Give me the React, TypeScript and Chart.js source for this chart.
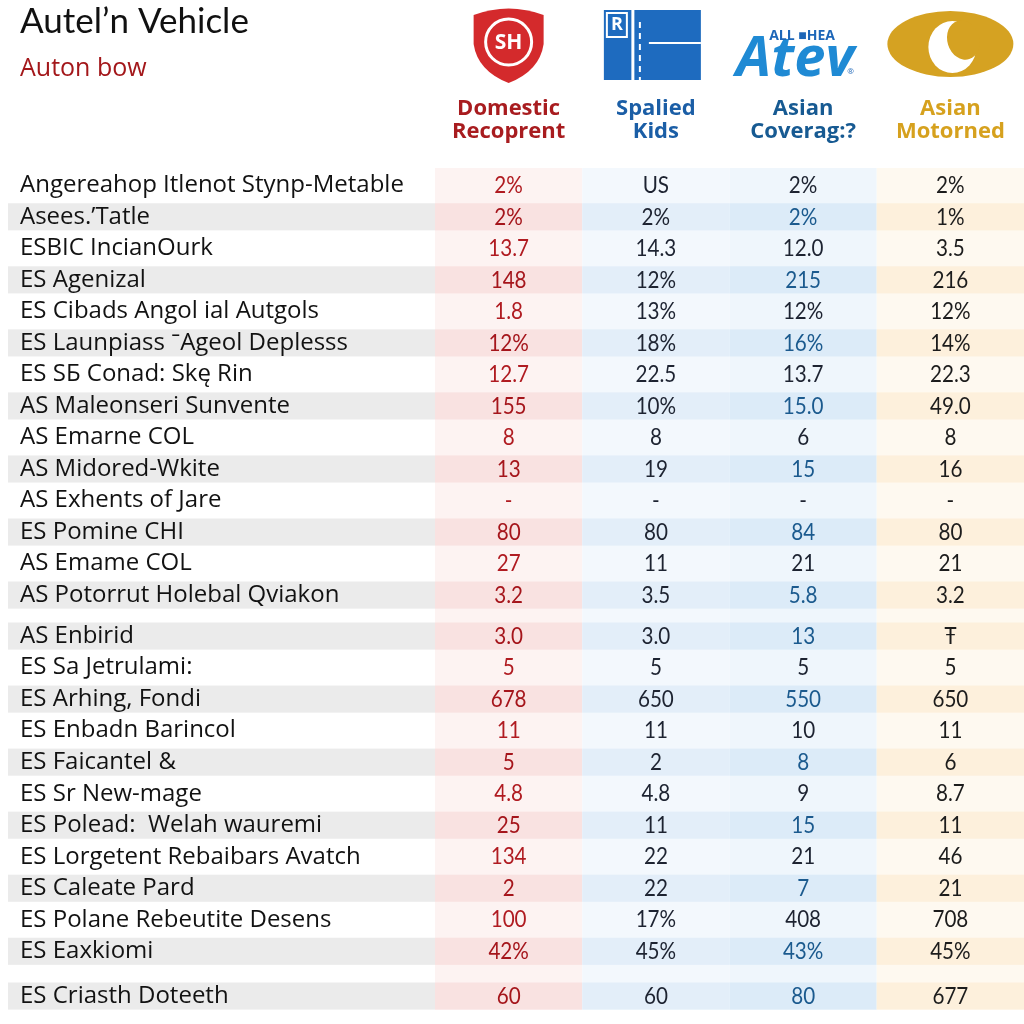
import React, { useEffect, useRef } from "react";
import { Chart, registerables } from "chart.js";

Chart.register(...registerables);

const titleText = "Autel’n Vehicle";
const subtitleText = "Auton bow";

const columnHeaders = [
  ["Domestic", "Recoprent"],
  ["Spalied", "Kids"],
  ["Asian", "Coverag:?"],
  ["Asian", "Motorned"],
];

const rowLabels = [
  "Angereahop Itlenot Stynp-Metable",
  "Asees.’Tatle",
  "ESBIC IncianOurk",
  "ES Agenizal",
  "ES Cibads Angol ial Autgols",
  "ES Launpiass ˉAgeol Deplesss",
  "ES SБ Conad: Skę Rin",
  "AS Maleonseri Sunvente",
  "AS Emarne COL",
  "AS Midored-Wkite",
  "AS Exhents of Jare",
  "ES Pomine CHI",
  "AS Emame COL",
  "AS Potorrut Holebal Qviakon",
  "AS Enbirid",
  "ES Sa Jetrulami:",
  "ES Arhing, Fondi",
  "ES Enbadn Barincol",
  "ES Faicantel &",
  "ES Sr New-mage",
  "ES Polead:  Welah wauremi",
  "ES Lorgetent Rebaibars Avatch",
  "ES Caleate Pard",
  "ES Polane Rebeutite Desens",
  "ES Eaxkiomi",
  "ES Criasth Doteeth",
];

// row slot on the vertical axis (groups separated by small gaps)
const rowSlots = [
  0, 1, 2, 3, 4, 5, 6, 7, 8, 9, 10, 11, 12, 13,
  14.3, 15.3, 16.3, 17.3, 18.3, 19.3, 20.3, 21.3, 22.3, 23.3, 24.3,
  25.72,
];

const domesticValues = ["2%", "2%", "13.7", "148", "1.8", "12%", "12.7", "155", "8", "13", "-", "80", "27", "3.2", "3.0", "5", "678", "11", "5", "4.8", "25", "134", "2", "100", "42%", "60"];
const spaliedValues = ["US", "2%", "14.3", "12%", "13%", "18%", "22.5", "10%", "8", "19", "-", "80", "11", "3.5", "3.0", "5", "650", "11", "2", "4.8", "11", "22", "22", "17%", "45%", "60"];
const coverageValues = ["2%", "2%", "12.0", "215", "12%", "16%", "13.7", "15.0", "6", "15", "-", "84", "21", "5.8", "13", "5", "550", "10", "8", "9", "15", "21", "7", "408", "43%", "80"];
const motornedValues = ["2%", "1%", "3.5", "216", "12%", "14%", "22.3", "49.0", "8", "16", "-", "80", "21", "3.2", "Ŧ", "5", "650", "11", "6", "8.7", "11", "46", "21", "708", "45%", "677"];

const columnValues = [domesticValues, spaliedValues, coverageValues, motornedValues];

// styles
const stripedRows = [1, 3, 5, 7, 9, 11, 13, 14, 16, 18, 20, 22, 24, 25];
const headerColors = ["#a81c1f", "#1b5ea6", "#175a92", "#d6a11e"];
const cellColors = ["#b01b21", "#1d2331", "#1d2331", "#1c1c1c"];
const cellStripeColors = ["#a5151b", "#1d2331", "#1b5a8e", "#1c1c1c"];
const columnTints = ["#fdf3f2", "#f3f8fd", "#eff6fc", "#fef9f0"];
const columnStripeTints = ["#f9e2e1", "#e3eef9", "#dcebf8", "#fdf0dc"];
const labelStripe = "#ebebeb";

const STRIPE_HALF = 0.43;

const backgroundPlugin = {
  id: "tableBackground",
  beforeDraw(chart: any) {
    const { ctx, chartArea } = chart;
    const xs = chart.scales.x;
    const ys = chart.scales.y;
    ctx.save();
    ctx.fillStyle = "#ffffff";
    ctx.fillRect(0, 0, chart.width, chart.height);
    stripedRows.forEach((r) => {
      const t = ys.getPixelForValue(rowSlots[r] - STRIPE_HALF);
      const b = ys.getPixelForValue(rowSlots[r] + STRIPE_HALF);
      ctx.fillStyle = labelStripe;
      ctx.fillRect(ys.left - 12, t, chartArea.left - (ys.left - 12), b - t);
    });
    for (let c = 0; c < columnValues.length; c++) {
      const x0 = xs.getPixelForValue(c - 0.5);
      const x1 = xs.getPixelForValue(c + 0.5);
      ctx.fillStyle = columnTints[c];
      ctx.fillRect(x0, chartArea.top, x1 - x0, chartArea.bottom - chartArea.top);
      ctx.fillStyle = columnStripeTints[c];
      stripedRows.forEach((r) => {
        const t = ys.getPixelForValue(rowSlots[r] - STRIPE_HALF);
        const b = ys.getPixelForValue(rowSlots[r] + STRIPE_HALF);
        ctx.fillRect(x0, t, x1 - x0, b - t);
      });
    }
    ctx.restore();
  },
};

const cellTextPlugin = {
  id: "cellText",
  afterDatasetsDraw(chart: any) {
    const { ctx } = chart;
    chart.data.datasets.forEach((ds: any, c: number) => {
      const meta = chart.getDatasetMeta(c);
      meta.data.forEach((pt: any, i: number) => {
        const striped = stripedRows.includes(i);
        ctx.save();
        ctx.textAlign = "center";
        ctx.textBaseline = "middle";
        ctx.font = "24px Lato, sans-serif";
        ctx.fillStyle = striped ? cellStripeColors[c] : cellColors[c];
        ctx.translate(pt.x, pt.y);
        ctx.scale(0.86, 1);
        ctx.fillText(columnValues[c][i], 0, 0);
        ctx.restore();
      });
    });
  },
};

const logoPlugin = {
  id: "logos",
  afterDraw(chart: any) {
    const { ctx } = chart;
    const xs = chart.scales.x;
    ctx.save();
    // 1: red shield
    let cx = xs.getPixelForValue(0);
    ctx.beginPath();
    ctx.moveTo(cx - 35, 15);
    ctx.quadraticCurveTo(cx, 2, cx + 35, 15);
    ctx.lineTo(cx + 35, 44);
    ctx.quadraticCurveTo(cx + 31, 71, cx, 83);
    ctx.quadraticCurveTo(cx - 31, 71, cx - 35, 44);
    ctx.closePath();
    ctx.fillStyle = "#d42a2c";
    ctx.fill();
    ctx.strokeStyle = "#ffffff";
    ctx.lineWidth = 3;
    ctx.beginPath();
    ctx.arc(cx, 42, 23, 0, Math.PI * 2);
    ctx.stroke();
    ctx.fillStyle = "#ffffff";
    ctx.font = 'bold 21px "Open Sans", sans-serif';
    ctx.textAlign = "center";
    ctx.textBaseline = "middle";
    ctx.fillText("SH", cx, 43);

    // 2: blue panel
    cx = xs.getPixelForValue(1) - 4;
    ctx.fillStyle = "#1e6bbf";
    ctx.fillRect(cx - 48, 10, 97, 70);
    ctx.strokeStyle = "#ffffff";
    ctx.lineWidth = 3;
    ctx.beginPath();
    ctx.moveTo(cx - 19, 10);
    ctx.lineTo(cx - 19, 80);
    ctx.stroke();
    ctx.lineWidth = 2;
    ctx.setLineDash([6, 5]);
    ctx.beginPath();
    ctx.moveTo(cx - 12, 22);
    ctx.lineTo(cx - 12, 80);
    ctx.stroke();
    ctx.setLineDash([]);
    ctx.beginPath();
    ctx.moveTo(cx - 3, 43);
    ctx.lineTo(cx + 49, 43);
    ctx.stroke();
    ctx.strokeRect(cx - 45, 13, 20, 24);
    ctx.font = 'bold 18px "Open Sans", sans-serif';
    ctx.fillStyle = "#ffffff";
    ctx.fillText("R", cx - 35, 25);

    // 3: Atev wordmark
    cx = xs.getPixelForValue(2) - 2;
    ctx.fillStyle = "#1f8ad4";
    ctx.font = 'italic bold 56px "Open Sans", sans-serif';
    ctx.textBaseline = "alphabetic";
    ctx.fillText("Atev", cx - 6, 76);
    ctx.fillStyle = "#1d66b8";
    ctx.font = 'bold 14px "Open Sans", sans-serif';
    ctx.textAlign = "left";
    ctx.fillText("ALL ■HEA", cx - 32, 40);
    ctx.font = '8px "Open Sans", sans-serif';
    ctx.fillText("®", cx + 46, 74);

    // 4: gold oval
    cx = xs.getPixelForValue(3);
    ctx.fillStyle = "#d5a222";
    ctx.beginPath();
    ctx.ellipse(cx, 44, 63, 33, 0, 0, Math.PI * 2);
    ctx.fill();
    ctx.fillStyle = "#ffffff";
    ctx.beginPath();
    ctx.ellipse(cx + 2, 47, 24, 26, 0, 0, Math.PI * 2);
    ctx.fill();
    ctx.fillStyle = "#d5a222";
    ctx.beginPath();
    ctx.ellipse(cx + 13, 40, 16, 20, -0.3, 0, Math.PI * 2);
    ctx.fill();
    ctx.restore();
  },
};

export default function App() {
  const canvasRef = useRef<HTMLCanvasElement | null>(null);

  useEffect(() => {
    if (!canvasRef.current) return;
    const datasets = columnValues.map((vals, c) => ({
      label: columnHeaders[c].join(" "),
      data: rowSlots.map((slot) => ({ x: c, y: slot })),
      pointRadius: 0,
      showLine: false,
    }));

    const chart = new Chart(canvasRef.current, {
      type: "scatter",
      data: { datasets },
      options: {
        responsive: false,
        animation: false,
        layout: { padding: { left: 20, right: 0, top: 0, bottom: 0 } },
        plugins: {
          legend: { display: false },
          tooltip: { enabled: false },
          title: {
            display: true,
            text: titleText,
            align: "start",
            color: "#111111",
            font: { family: "Lato, sans-serif", size: 35, weight: "normal", lineHeight: 1.25 },
            padding: { top: 0, bottom: 0 },
          },
          subtitle: {
            display: true,
            text: subtitleText,
            align: "start",
            color: "#a3171a",
            font: { family: '"Open Sans", sans-serif', size: 25, weight: "normal", lineHeight: 1.2 },
            padding: { top: 10, bottom: -12 },
          },
        },
        scales: {
          x: {
            type: "linear",
            position: "top",
            min: -0.5,
            max: 3.5,
            grid: { display: false, drawTicks: false },
            border: { display: false },
            afterBuildTicks: (scale: any) => {
              scale.ticks = columnHeaders.map((_, i) => ({ value: i }));
            },
            afterFit: (scale: any) => {
              scale.paddingLeft = 0;
              scale.paddingRight = 0;
            },
            ticks: {
              autoSkip: false,
              maxRotation: 0,
              padding: 25,
              font: { family: '"Open Sans", sans-serif', size: 22, weight: "bold", lineHeight: 1.05 },
              color: (ctx: any) => headerColors[ctx.index] || "#000",
              callback: (value: any) => columnHeaders[Math.round(value)],
            },
          },
          y: {
            type: "linear",
            reverse: true,
            min: -0.55,
            max: 26.15,
            grid: { display: false, drawTicks: false },
            border: { display: false },
            afterBuildTicks: (scale: any) => {
              scale.ticks = rowSlots.map((v) => ({ value: v }));
            },
            afterFit: (scale: any) => {
              scale.width = 415;
            },
            ticks: {
              autoSkip: false,
              crossAlign: "far",
              padding: 0,
              color: "#121212",
              font: { family: '"Open Sans", sans-serif', size: 24 },
              callback: (_value: any, index: number) => rowLabels[index],
            },
          },
        },
      },
      plugins: [backgroundPlugin, cellTextPlugin, logoPlugin],
    } as any);

    return () => chart.destroy();
  }, []);

  return (
    <div style={{ position: "absolute", left: 0, top: 0, width: 1024, height: 1024, background: "#fff" }}>
      <canvas ref={canvasRef} width={1024} height={1024} style={{ display: "block" }} />
    </div>
  );
}
